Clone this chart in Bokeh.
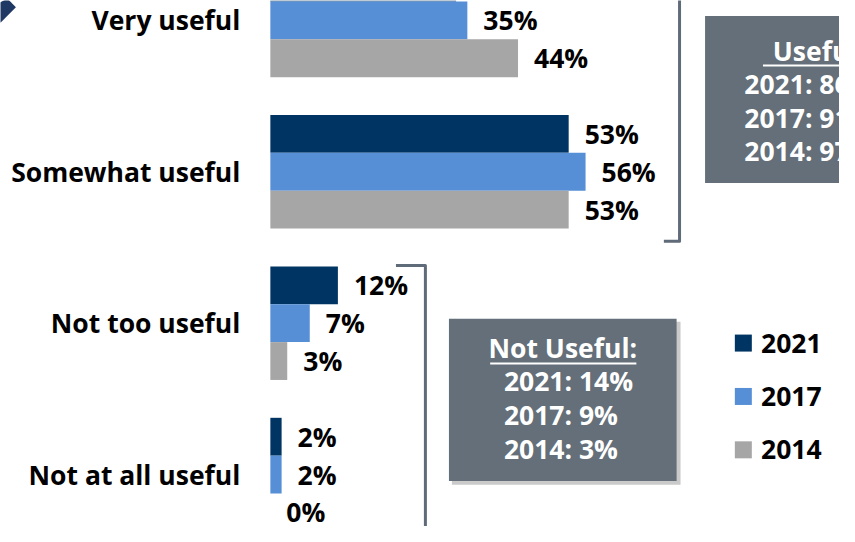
from bokeh.plotting import figure
from bokeh.models import Range1d
from bokeh.core.properties import value
from bokeh.embed import file_html
from bokeh.resources import INLINE

# ---- data ----
categories = ["Very useful", "Somewhat useful", "Not too useful", "Not at all useful"]
years = ["2021", "2017", "2014"]
v2021 = [33, 53, 12, 2]
v2017 = [35, 56, 7, 2]
v2014 = [44, 53, 3, 0]
colors = ["#003462", "#568FD6", "#A6A6A6"]

series = [v2021, v2017, v2014]
useful = [s[0] + s[1] for s in series]
not_useful = [s[2] + s[3] for s in series]

FONT = value("Open Sans")
FS = "26.5px"
W, H = 839, 526

# reference-pixel helpers for annotation placement only
PXU = 5.736      # px per percent
X0 = 275         # x of 0%
Y0 = 20.5        # y of first category centre
STEP = 156.0     # px per category
REF_W, REF_H = 855, 542


def sx(px):
    return (px - X0) / PXU


def sy(py):
    return -(py - Y0) / STEP


p = figure(width=W, height=H, output_backend="svg", toolbar_location=None,
           x_range=Range1d(sx(0), sx(REF_W)), y_range=Range1d(sy(REF_H), sy(0)),
           x_axis_location=None, y_axis_location=None, min_border=0)
p.grid.visible = False
p.outline_line_color = None
p.background_fill_color = "white"

bar_h = 0.25
for j, (vals, col) in enumerate(zip(series, colors)):
    ys = [-i + (1 - j) * bar_h for i in range(len(categories))]
    p.hbar(y=ys, left=0, right=vals, height=bar_h, fill_color=col, line_color=None)
    p.text(x=vals, y=ys, text=[f"{v}%" for v in vals], x_offset=16, y_offset=0,
           text_font=FONT, text_font_style="bold", text_font_size=FS,
           text_align="left", text_baseline="middle", text_color="black")

# category labels
p.text(x=[0] * len(categories), y=[-i for i in range(len(categories))], text=categories,
       x_offset=-30, y_offset=0, text_font=FONT, text_font_style="bold", text_font_size=FS,
       text_align="right", text_baseline="middle", text_color="black")

# top-left decoration
p.patch([sx(7), sx(15.7), sx(0), sx(-10)], [sy(-2), sy(7), sy(23), sy(7)],
        fill_color="#1F3864", line_color=None)

# brackets
bcol = "#5F6B78"
p.line([sx(692), sx(692), sx(676)], [sy(-20), sy(248), sy(248)],
       line_color=bcol, line_width=3, line_join="round")
p.line([sx(403), sx(433), sx(433)], [sy(273), sy(273), sy(560)],
       line_color=bcol, line_width=3, line_join="round")

box_col = "#646F79"
# Useful box
p.quad(left=sx(718), right=sx(960), top=sy(16), bottom=sy(188),
       fill_color=box_col, line_color=None)
p.text(x=[sx(834)], y=[sy(52)], text=["Useful:"], text_font=FONT, text_font_style="bold",
       text_font_size=FS, text_align="center", text_baseline="middle", text_color="white")
p.line([sx(777), sx(891)], [sy(67), sy(67)], line_color="white", line_width=2)
p.text(x=[sx(758)] * 3, y=[sy(86), sy(121), sy(155)],
       text=[f"{y}: {u}%" for y, u in zip(years, useful)], text_font=FONT,
       text_font_style="bold", text_font_size=FS, text_align="left",
       text_baseline="middle", text_color="white")

# Not useful box with shadow
p.quad(left=sx(460), right=sx(693), top=sy(331), bottom=sy(499),
       fill_color="#8A8A8A", fill_alpha=0.45, line_color=None)
p.quad(left=sx(457), right=sx(689), top=sy(328), bottom=sy(495),
       fill_color=box_col, line_color=None)
p.text(x=[sx(573)], y=[sy(358)], text=["Not Useful:"], text_font=FONT, text_font_style="bold",
       text_font_size=FS, text_align="center", text_baseline="middle", text_color="white")
p.line([sx(499), sx(648)], [sy(374), sy(374)], line_color="white", line_width=2)
p.text(x=[sx(513)] * 3, y=[sy(392), sy(427), sy(462)],
       text=[f"{y}: {u}%" for y, u in zip(years, not_useful)], text_font=FONT,
       text_font_style="bold", text_font_size=FS, text_align="left",
       text_baseline="middle", text_color="white")

# legend
leg_y = [sy(353), sy(408), sy(463)]
p.scatter(x=[sx(757)] * 3, y=leg_y, marker="square", size=17, fill_color=colors,
          line_color=None)
p.text(x=[sx(775)] * 3, y=leg_y, text=years, text_font=FONT, text_font_style="bold",
       text_font_size=FS, text_align="left", text_baseline="middle", text_color="black")

open("out.html", "w").write(file_html(p, INLINE))
